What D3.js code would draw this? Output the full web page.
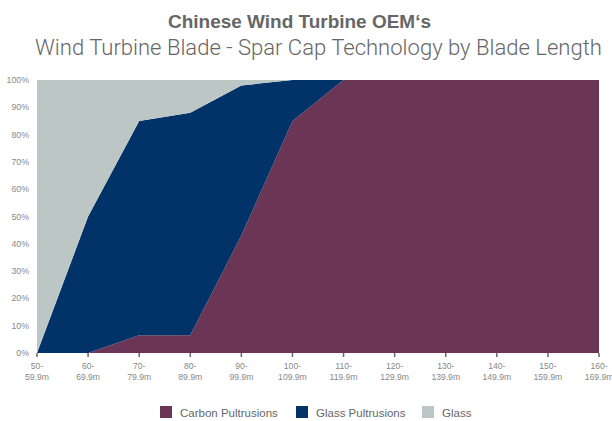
<!DOCTYPE html>
<html><head><meta charset="utf-8">
<script src="https://cdn.jsdelivr.net/npm/d3@7"></script>
<style>body{margin:0;background:#fff}svg{display:block}</style>
</head><body>
<svg id="c" width="612" height="421"></svg>
<script>
const categories = ["50-59.9m","60-69.9m","70-79.9m","80-89.9m","90-99.9m","100-109.9m","110-119.9m","120-129.9m","130-139.9m","140-149.9m","150-159.9m","160-169.9m"];
const carbonPultrusions = [0, 0, 6.5, 6.5, 43, 85, 100, 100, 100, 100, 100, 100];
const glassPultrusions  = [0, 50, 78.5, 81.5, 55, 15, 0, 0, 0, 0, 0, 0];
const glass             = [100, 50, 15, 12, 2, 0, 0, 0, 0, 0, 0, 0];
const seriesNames = ["Carbon Pultrusions","Glass Pultrusions","Glass"];
const yTicks = [0,10,20,30,40,50,60,70,80,90,100];
const colors = ["#6b3556","#013369","#bcc6c5"];

const svg = d3.select("#c");
const font = "'Liberation Sans', Arial, Helvetica, sans-serif";
const rows = categories.map((c,i)=>({cat:c, "Carbon Pultrusions":carbonPultrusions[i], "Glass Pultrusions":glassPultrusions[i], "Glass":glass[i]}));
const x = d3.scalePoint().domain(categories).range([37, 599]);
const y = d3.scaleLinear().domain([0,100]).range([353, 80]);
const stack = d3.stack().keys(seriesNames)(rows);
const area = d3.area().x(d=>x(d.data.cat)).y0(d=>y(d[0])).y1(d=>y(d[1]));
svg.append("g").selectAll("path").data(stack).join("path")
  .attr("d", area).attr("fill",(d,i)=>colors[i]);

// y labels
svg.append("g").selectAll("text").data(yTicks).join("text")
  .attr("x", 29).attr("y", d=>y(d)+3).attr("text-anchor","end")
  .attr("font-family", font).attr("font-size", 8.8).attr("fill","#888")
  .text(d=>d+"%");

// x ticks
const xg = svg.append("g");
xg.selectAll("line").data(categories).join("line")
  .attr("x1", d=>x(d)).attr("x2", d=>x(d)).attr("y1", 353).attr("y2", 357)
  .attr("stroke","#666").attr("stroke-width",1.5);
const xl = xg.selectAll("text").data(categories).join("text")
  .attr("x", d=>x(d)).attr("text-anchor","middle")
  .attr("font-family", font).attr("font-size", 8.6).attr("fill","#888");
xl.append("tspan").attr("x", d=>x(d)).attr("y", 369).text(d=>d.split("-")[0]+"-");
xl.append("tspan").attr("x", d=>x(d)).attr("y", 380).text(d=>d.split("-")[1]);

// titles
function fitText(sel, w){ const n=sel.node(); const L=n.getComputedTextLength(); const fs=parseFloat(sel.attr("font-size")); sel.attr("font-size", fs*w/L); }
const t1 = svg.append("text").attr("x", 299.5).attr("y", 28).attr("text-anchor","middle")
  .attr("font-family", font).attr("font-weight","bold").attr("font-size", 19).attr("fill","#666")
  .text("Chinese Wind Turbine OEM‘s");
fitText(t1, 263);
const t2 = svg.append("text").attr("x", 318.5).attr("y", 55).attr("text-anchor","middle")
  .attr("font-family", "Roboto, 'Liberation Sans', sans-serif").attr("font-weight",300).attr("font-size", 19).attr("fill","#666")
  .text("Wind Turbine Blade - Spar Cap Technology by Blade Length");
fitText(t2, 567);

// legend
const legX = [160, 296, 422];
const lg = svg.append("g").selectAll("g").data(seriesNames).join("g")
  .attr("transform",(d,i)=>`translate(${legX[i]},0)`);
lg.append("rect").attr("x",0).attr("y",406).attr("width",12).attr("height",12).attr("fill",(d,i)=>colors[i]);
lg.append("text").attr("x",20).attr("y",416.5).attr("font-family",font).attr("font-size",11.5).attr("fill","#666").text(d=>d);
</script>
</body></html>
